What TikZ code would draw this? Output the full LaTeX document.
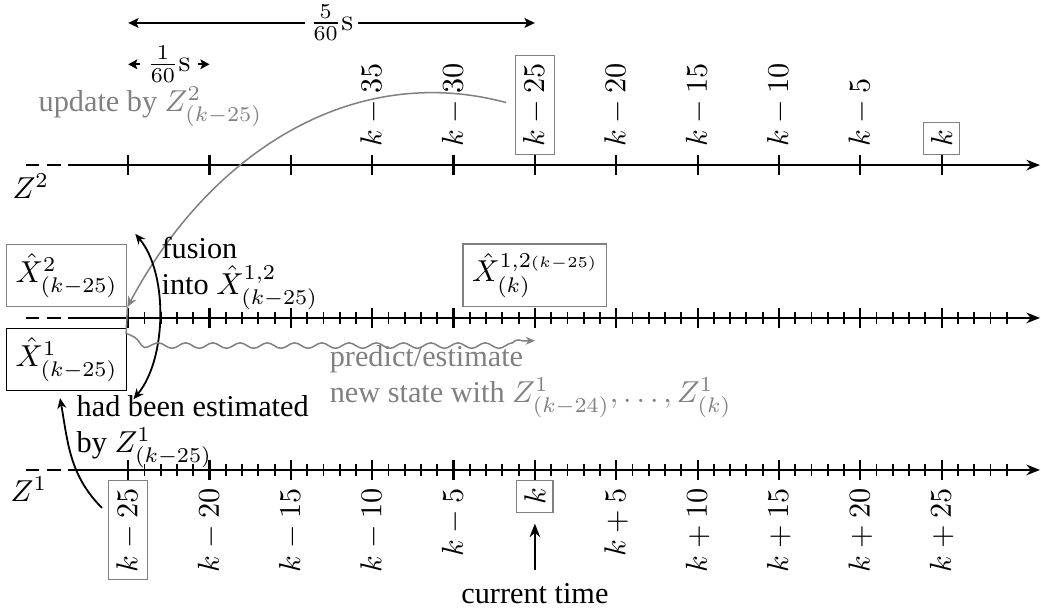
\documentclass[tikz,border=0pt]{standalone}
\usepackage[no-math]{fontspec}
\setmainfont{Liberation Serif}
\usetikzlibrary{arrows.meta,decorations.pathmorphing}

\begin{document}
\begin{tikzpicture}[
        x=0.1889cm, y=1cm,
        >={Stealth[length=4.5pt,width=3.5pt]},
        axis/.style={->, line width=0.7pt},
        lead/.style={dashed, dash pattern=on 4.5pt off 2.5pt, line width=0.7pt},
        major/.style={line width=0.7pt},
        minor/.style={line width=0.6pt},
        uplabel/.style={rotate=90, anchor=west, inner sep=2.5pt},
        downlabel/.style={rotate=90, anchor=east, inner sep=2.5pt},
        frame/.style={draw=gray, line width=0.4pt},
        state/.style={rectangle, draw=#1, line width=0.5pt, inner sep=3pt},
        state/.default=black,
        note/.style={align=left, inner sep=3pt},
        faded/.style={gray},
        small arrow/.style={>={Stealth[length=3.5pt,width=3pt]}},
        span/.style={<->, line width=0.7pt, >={Stealth[length=3.4pt,width=3.2pt,inset=0.7pt]}}
    ]

    \useasboundingbox (-32.88,-1.683) rectangle (31.11,5.457);

    \draw[lead] (-31.3,3.54) -- (-28.15,3.54);
    \draw[axis] (-28.15,3.54) -- (31.05,3.54);
    \foreach \x in {-25,-20,...,25}
        \draw[major] (\x,3.424) -- (\x,3.656);

    \draw[lead] (-31.3,1.765) -- (-28.15,1.765);
    \draw[axis] (-28.15,1.765) -- (31.05,1.765);
    \foreach \x in {-24,...,29}
        \draw[minor] (\x,1.70) -- (\x,1.83);
    \foreach \x in {-25,-20,...,25}
        \draw[major] (\x,1.649) -- (\x,1.881);

    \draw[lead] (-31.3,0) -- (-28.15,0);
    \draw[axis] (-28.15,0) -- (31.05,0);
    \foreach \x in {-24,...,29}
        \draw[minor] (\x,-0.065) -- (\x,0.065);
    \foreach \x in {-25,-20,...,25}
        \draw[major] (\x,-0.116) -- (\x,0.116);

    \node[anchor=base west] (ztwo) at (-32.76,3.15) {$Z^2$};
    \node[anchor=base west] (zone) at (-32.88,-0.372) {$Z^1$};

    \foreach \d in {35,30,20,15,10,5}
        \node[uplabel] (up\d) at (25-\d,3.656) {$k-\d$};
    \node[uplabel, frame] (up25) at (0,3.656) {$k-25$};
    \node[uplabel, frame] (up0) at (25,3.656) {$k$};

    \foreach \d in {20,15,10,5}
        \node[downlabel] (dn\d) at (-\d,-0.116) {$k-\d$};
    \foreach \d in {5,10,...,25}
        \node[downlabel] (dp\d) at (\d,-0.116) {$k+\d$};
    \node[downlabel, frame] (dn25) at (-25,-0.116) {$k-25$};
    \node[downlabel, frame] (dk) at (0,-0.116) {$k$};

    \coordinate (fivel) at (-25,5.19);
    \coordinate (fiver) at (0,5.19);
    \draw[span] (fivel) -- node[fill=white, inner sep=1.5pt] {$\frac{5}{60}\mathrm{s}$} (fiver);
    \coordinate (onel) at (-25,4.71);
    \coordinate (oner) at (-20,4.71);
    \draw[span, >={Stealth[length=3pt,width=3.2pt,inset=0.6pt]}] (onel) -- node[fill=white, inner sep=2.5pt] {$\frac{1}{60}\mathrm{s}$} (oner);

    \node[faded, anchor=base west] (update) at (-31.16,4.157) {update by $Z^2_{(k-25)}$};

    \node[state=gray, anchor=south east] (Xtwo) at (-25.05,1.89) {$\hat{X}^2_{(k-25)}$};
    \node[state, anchor=north east] (Xone) at (-25.05,1.649) {$\hat{X}^1_{(k-25)}$};
    \node[state=gray, anchor=south] (Xfused) at (0,1.89) {$\hat{X}^{1,2{\scriptscriptstyle(k-25)}}_{(k)}$};

    \draw[faded, ->, small arrow, line width=0.5pt, shorten <=3pt] (up25.north) to[out=165, in=62] (Xtwo.south east);

    \draw[<->, small arrow, line width=0.6pt] ([shift={(2.6pt,3.3pt)}]Xtwo.north east) to[out=-50, in=50, looseness=0.8] ([shift={(2pt,-2.6pt)}]Xone.south east);
    \node[note, anchor=north west] (fusion) at (-23.54,2.82) {fusion\\into $\hat{X}^{1,2}_{(k-25)}$};

    \coordinate (predend) at (0,1.5);
    \draw[faded, ->, >={Stealth[length=3pt,width=2.6pt]}, line width=0.5pt, decorate,
        decoration={snake, amplitude=0.9pt, segment length=9pt, pre length=10pt, post length=1pt}]
        (Xtwo.south east) .. controls (-25.9,1.8) and (-25.6,1.48) .. (-23.5,1.5) -- (predend);
    \node[faded, note, anchor=north west] (predict) at (-13.2,1.556) {predict/estimate\\new state with $Z^1_{(k-24)},\dots,Z^1_{(k)}$};

    \node[note, anchor=north west] (estimated) at (-28.76,0.975) {had been estimated\\by $Z^1_{(k-25)}$};
    \coordinate (estfrom) at (-26.61,-0.441);
    \draw[->, small arrow, line width=0.6pt] (estfrom) to[out=135, in=-80] ([shift={(-2.3pt,-4pt)}]estimated.north west);

    \node[anchor=base] (now) at (0,-1.556) {current time};
    \draw[->, line width=0.7pt, shorten <=1pt, shorten >=3.5pt] (now) -- (dk.west);

\end{tikzpicture}
\end{document}
